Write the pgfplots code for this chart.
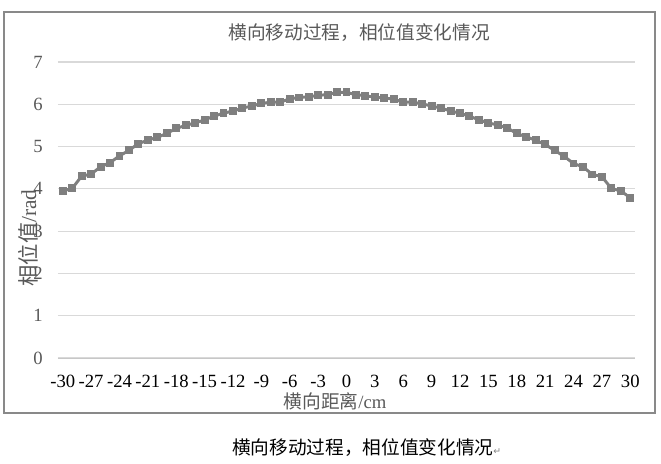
\documentclass[border=0pt]{standalone}
\usepackage{fontspec}
\setmainfont{Liberation Serif}
\newfontfamily\cjk{Noto Sans CJK SC}
\newfontfamily\sym{DejaVu Sans}
\usepackage{pgfplots}
\pgfplotsset{compat=1.18}
\definecolor{linegrey}{HTML}{7F7F7F}
\definecolor{txtgrey}{HTML}{595959}
\definecolor{gridgrey}{HTML}{D9D9D9}
\definecolor{framegrey}{HTML}{898989}

\pgfplotstableread{
x y
-30 3.95
-29 4.01
-28 4.30
-27 4.35
-26 4.52
-25 4.62
-24 4.78
-23 4.91
-22 5.07
-21 5.15
-20 5.22
-19 5.31
-18 5.43
-17 5.50
-16 5.56
-15 5.63
-14 5.72
-13 5.79
-12 5.84
-11 5.91
-10 5.96
-9 6.02
-8 6.05
-7 6.05
-6 6.13
-5 6.16
-4 6.18
-3 6.21
-2 6.23
-1 6.28
0 6.28
1 6.23
2 6.20
3 6.17
4 6.15
5 6.12
6 6.05
7 6.05
8 6.01
9 5.96
10 5.91
11 5.84
12 5.79
13 5.72
14 5.63
15 5.56
16 5.51
17 5.44
18 5.31
19 5.23
20 5.15
21 5.05
22 4.91
23 4.77
24 4.60
25 4.52
26 4.34
27 4.29
28 4.01
29 3.95
30 3.79
}\phase

\begin{document}
\begin{tikzpicture}
\useasboundingbox (0,0) rectangle (495.75pt,348pt);
\draw[framegrey, line width=0.8pt] (3pt,38.25pt) rectangle (491.25pt,339pt);
\begin{axis}[
  at={(43.5pt,79.5pt)}, anchor=south west,
  scale only axis, width=432.75pt, height=222pt,
  xmin=-30.5, xmax=30.5, ymin=0, ymax=7,
  xtick={-30,-27,...,30}, ytick={0,1,...,7},
  axis x line=bottom, axis y line=left,
  x axis line style={draw=gridgrey!60!black!45, -},
  y axis line style={draw=none},
  major tick length=0pt,
  ymajorgrids, grid style={gridgrey, line width=0.8pt},
  /pgf/number format/assume math mode=true,
  tick label style={font=\fontsize{14pt}{16pt}\selectfont},
  x tick label style={anchor=center, yshift=-17.5pt, text=black},
  y tick label style={anchor=center, xshift=-15pt, text=txtgrey},
  clip=false,
]
\addplot[color=linegrey, line width=2.2pt, mark=square*, mark size=2.6pt,
  mark options={solid, fill=linegrey, draw=linegrey, line width=0pt}] table[x=x, y=y] {\phase};
\end{axis}
\node[text=txtgrey, font=\cjk\fontsize{14pt}{16pt}\selectfont] at (269.25pt,323.25pt) {横向移动过程，相位值变化情况};
\node[text=txtgrey, font=\fontsize{14pt}{16pt}\selectfont] at (251.25pt,47pt) {{\cjk 横向距离}/cm};
\node[text=txtgrey, rotate=90, font=\fontsize{16pt}{18pt}\selectfont] at (21pt,169.5pt) {{\cjk 相位值}/rad};
\node[text=black, font=\cjk\fontsize{14pt}{16pt}\selectfont] at (275pt,12pt) {横向移动过程，相位值变化情况{\sym\fontsize{7pt}{8pt}\selectfont\color{gray}↵}};
\end{tikzpicture}
\end{document}
